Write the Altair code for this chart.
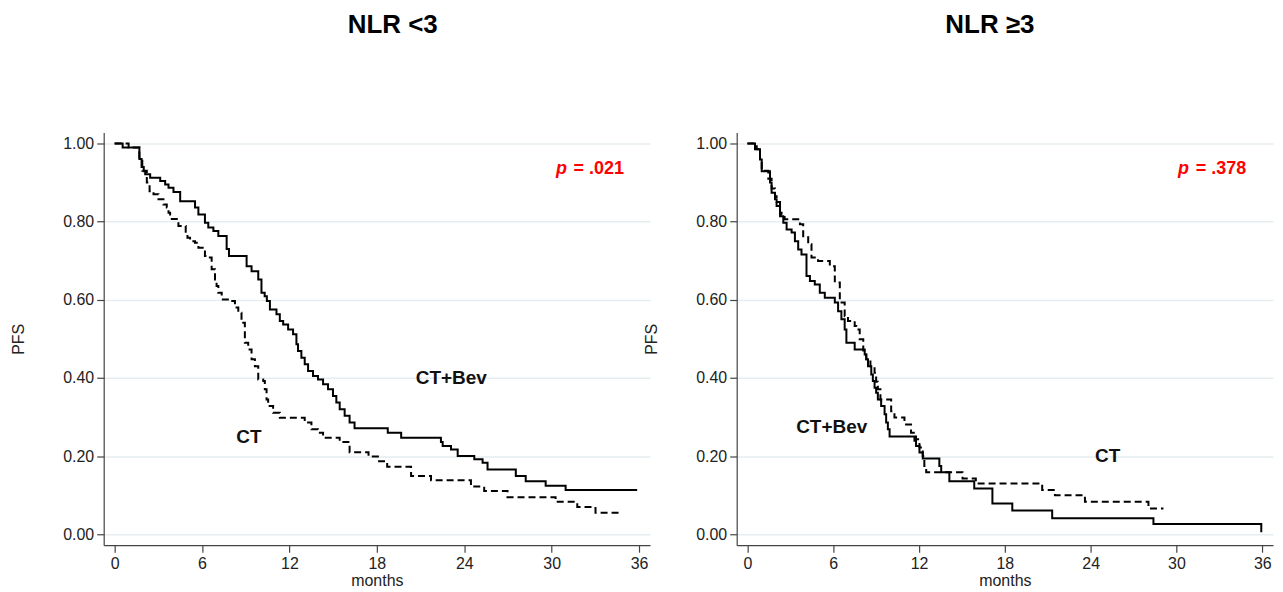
import altair as alt
import pandas as pd

FONT = "Liberation Sans"

# ---------------- data ----------------
month_ticks = [0, 6, 12, 18, 24, 30, 36]
pfs_ticks = [0.0, 0.2, 0.4, 0.6, 0.8, 1.0]

# NLR <3, CT+Bev (solid)
l_bev_t = [0, 0.55, 1.7, 1.85, 2.0, 2.1, 2.44, 3.13, 3.47, 3.7, 4.04, 4.5, 5.52, 5.75, 6.2, 6.43,
           6.78, 7.12, 7.69, 7.85, 9.06, 9.4, 9.86, 10.08, 10.3, 10.45, 10.66, 11.11, 11.34, 11.57,
           11.91, 12.25, 12.48, 12.59, 12.82, 13.05, 13.28, 13.62, 13.96, 14.31, 14.65, 14.99, 15.22,
           15.45, 15.79, 16.13, 16.47, 18.75, 19.67, 22.4, 22.52, 23.09, 23.55, 24.69, 25.26, 25.6,
           27.54, 28.22, 29.59, 30.96]
l_bev_s = [1.0, 0.99, 0.96, 0.94, 0.929, 0.921, 0.912, 0.904, 0.895, 0.887, 0.876, 0.852, 0.836, 0.818,
           0.797, 0.785, 0.776, 0.763, 0.73, 0.712, 0.686, 0.673, 0.652, 0.618, 0.609, 0.597, 0.575,
           0.563, 0.546, 0.537, 0.524, 0.512, 0.486, 0.469, 0.452, 0.435, 0.418, 0.405, 0.396, 0.384,
           0.371, 0.354, 0.337, 0.32, 0.303, 0.286, 0.271, 0.26, 0.247, 0.236, 0.226, 0.217, 0.2,
           0.192, 0.183, 0.166, 0.149, 0.136, 0.124, 0.113]
l_bev_end = 35.87

# NLR <3, CT (dashed)
l_ct_t = [0, 0.96, 1.7, 1.9, 2.21, 2.4, 2.67, 3.01, 3.35, 3.58, 3.7, 3.81, 4.38, 4.88, 5.0, 5.18, 5.52,
          5.75, 6.2, 6.43, 6.66, 6.89, 7.0, 7.12, 7.35, 7.92, 8.26, 8.49, 8.71, 8.94, 9.17, 9.4, 9.63,
          9.86, 10.2, 10.31, 10.43, 10.54, 10.88, 11.34, 13.05, 13.51, 13.96, 14.31, 15.45, 16.13,
          17.43, 18.07, 18.71, 20.35, 21.72, 24.46, 25.37, 26.97, 30.27, 31.76, 33.01]
l_ct_s = [1.0, 0.99, 0.96, 0.93, 0.9, 0.878, 0.87, 0.857, 0.844, 0.836, 0.823, 0.807, 0.789, 0.767,
          0.759, 0.75, 0.746, 0.733, 0.712, 0.708, 0.678, 0.652, 0.635, 0.618, 0.601, 0.597, 0.58,
          0.567, 0.541, 0.49, 0.473, 0.448, 0.43, 0.396, 0.392, 0.371, 0.345, 0.328, 0.311, 0.298,
          0.286, 0.269, 0.26, 0.247, 0.236, 0.21, 0.199, 0.187, 0.173, 0.149, 0.138, 0.122, 0.111,
          0.095, 0.083, 0.07, 0.055]
l_ct_end = 34.84

# NLR >=3, CT+Bev (solid)
r_bev_t = [0, 0.53, 0.88, 1.0, 1.58, 1.69, 1.93, 2.04, 2.28, 2.51, 2.74, 3.09, 3.32, 3.55, 3.78, 4.13,
           4.37, 4.71, 5.06, 5.41, 6.11, 6.34, 6.57, 6.8, 6.92, 7.5, 8.2, 8.31, 8.43, 8.66, 8.77, 8.89,
           9.0, 9.12, 9.35, 9.59, 9.7, 9.82, 9.94, 11.68, 11.79, 12.03, 12.26, 13.42, 13.55, 14.12,
           15.86, 17.13, 18.52, 21.31, 28.39, 35.93]
r_bev_s = [1.0, 0.985, 0.959, 0.929, 0.9, 0.874, 0.857, 0.84, 0.814, 0.797, 0.78, 0.772, 0.75, 0.729,
           0.716, 0.661, 0.648, 0.639, 0.618, 0.605, 0.593, 0.571, 0.55, 0.524, 0.49, 0.473, 0.46,
           0.448, 0.43, 0.409, 0.392, 0.375, 0.362, 0.345, 0.328, 0.307, 0.286, 0.269, 0.25, 0.239,
           0.226, 0.209, 0.194, 0.175, 0.159, 0.136, 0.117, 0.079, 0.061, 0.041, 0.026, 0.005]
r_bev_end = 35.93

# NLR >=3, CT (dashed)
r_ct_t = [0, 0.65, 0.88, 1.0, 1.46, 1.69, 1.93, 2.04, 2.28, 2.39, 2.6, 3.67, 3.9, 4.25, 4.48, 4.94,
          5.76, 6.11, 6.46, 6.8, 7.03, 7.5, 7.61, 7.85, 8.1, 8.31, 8.6, 8.89, 9.0, 9.12, 9.3, 10.05,
          10.28, 10.98, 11.44, 11.79, 12.03, 12.26, 12.37, 12.5, 15.04, 15.97, 20.61, 21.5, 23.6, 28.04]
r_ct_s = [1.0, 0.985, 0.96, 0.93, 0.91, 0.885, 0.865, 0.85, 0.823, 0.818, 0.806, 0.793, 0.76, 0.742,
          0.708, 0.699, 0.686, 0.644, 0.593, 0.558, 0.546, 0.533, 0.524, 0.499, 0.47, 0.448, 0.43,
          0.413, 0.39, 0.371, 0.345, 0.315, 0.299, 0.281, 0.26, 0.243, 0.222, 0.2, 0.175, 0.159,
          0.143, 0.13, 0.113, 0.1, 0.083, 0.066]
r_ct_end = 29.09

# annotations (label, month, PFS)
l_labels = ["CT+Bev", "CT"]
l_labels_t = [20.67, 8.35]
l_labels_s = [0.40, 0.25]
r_labels = ["CT+Bev", "CT"]
r_labels_t = [3.41, 24.3]
r_labels_s = [0.274, 0.20]

l_p_value = "= .021"
r_p_value = "= .378"
l_p_t = [30.3, 31.5]
r_p_t = [30.1, 31.35]
p_s = 0.921

# ---------------- chart ----------------
X_DOMAIN = [-0.75, 36.75]
Y_DOMAIN = [-0.028, 1.028]
AXIS_COL = "#444444"
TXT_COL = "#222222"


def curve_df(t, s, end):
    return pd.DataFrame({"t": list(t) + [end], "s": list(s) + [s[-1]]})


def panel(title, dx, bev, ct, labels, p_t, p_text, width):
    xs = alt.Scale(domain=X_DOMAIN, nice=False, zero=False)
    ys = alt.Scale(domain=Y_DOMAIN, nice=False, zero=False)
    xax = alt.Axis(values=month_ticks, title="months", grid=False, tickSize=7, labelPadding=3,
                   titlePadding=1, domainColor=AXIS_COL, tickColor=AXIS_COL, domainWidth=1.2,
                   tickWidth=1.2, labelFont=FONT, labelFontSize=16, labelColor=TXT_COL,
                   titleFont=FONT, titleFontSize=16, titleFontWeight="normal", titleColor=TXT_COL,
                   labelFlush=False)
    yax = alt.Axis(values=pfs_ticks, format=".2f", title="PFS", grid=True, gridColor="#e6edf1",
                   gridWidth=1.5, tickSize=7, labelPadding=3, titlePadding=36,
                   domainColor=AXIS_COL, tickColor=AXIS_COL, domainWidth=1.2, tickWidth=1.2,
                   labelFont=FONT, labelFontSize=16, labelColor=TXT_COL, titleFont=FONT,
                   titleFontSize=16, titleFontWeight="normal", titleColor=TXT_COL,
                   labelFlush=False)
    X = alt.X("t:Q", scale=xs, axis=xax)
    Y = alt.Y("s:Q", scale=ys, axis=yax)

    bev_line = alt.Chart(curve_df(*bev)).mark_line(
        interpolate="step-after", color="black", strokeWidth=2).encode(x=X, y=Y)
    ct_line = alt.Chart(curve_df(*ct)).mark_line(
        interpolate="step-after", color="black", strokeWidth=2, strokeDash=[7, 4]).encode(x=X, y=Y)

    lab_df = pd.DataFrame({"label": labels[0], "t": labels[1], "s": labels[2]})
    lab = alt.Chart(lab_df).mark_text(
        align="left", baseline="middle", font=FONT, fontSize=19, fontWeight="bold",
        color="#111111").encode(x=X, y=Y, text="label:N")

    p_df = pd.DataFrame({"label": ["p"], "t": [p_t[0]], "s": [p_s]})
    pv_df = pd.DataFrame({"label": [p_text], "t": [p_t[1]], "s": [p_s]})
    p1 = alt.Chart(p_df).mark_text(
        align="left", baseline="alphabetic", font=FONT, fontSize=18, fontWeight="bold",
        fontStyle="italic", color="#ff0000").encode(x=X, y=Y, text="label:N")
    p2 = alt.Chart(pv_df).mark_text(
        align="left", baseline="alphabetic", font=FONT, fontSize=18, fontWeight="bold",
        color="#ff0000").encode(x=X, y=Y, text="label:N")

    return alt.layer(bev_line, ct_line, lab, p1, p2).properties(
        width=width, height=414,
        title=alt.TitleParams(text=title, font=FONT, fontSize=26, fontWeight="bold",
                              color="#000000", anchor="middle", frame="group", dx=dx,
                              offset=95))


left = panel("NLR <3", 16, (l_bev_t, l_bev_s, l_bev_end), (l_ct_t, l_ct_s, l_ct_end),
             (l_labels, l_labels_t, l_labels_s), l_p_t, l_p_value, 548)
right = panel("NLR \u22653", -15, (r_bev_t, r_bev_s, r_bev_end), (r_ct_t, r_ct_s, r_ct_end),
              (r_labels, r_labels_t, r_labels_s), r_p_t, r_p_value, 538)

chart = alt.hconcat(left, right, spacing=-7).properties(
    padding={"left": 2, "top": 3, "right": 2, "bottom": 2},
    background="white",
).configure_view(stroke=None)

chart.save("out.html", embed_options={"renderer": "svg", "actions": False})
